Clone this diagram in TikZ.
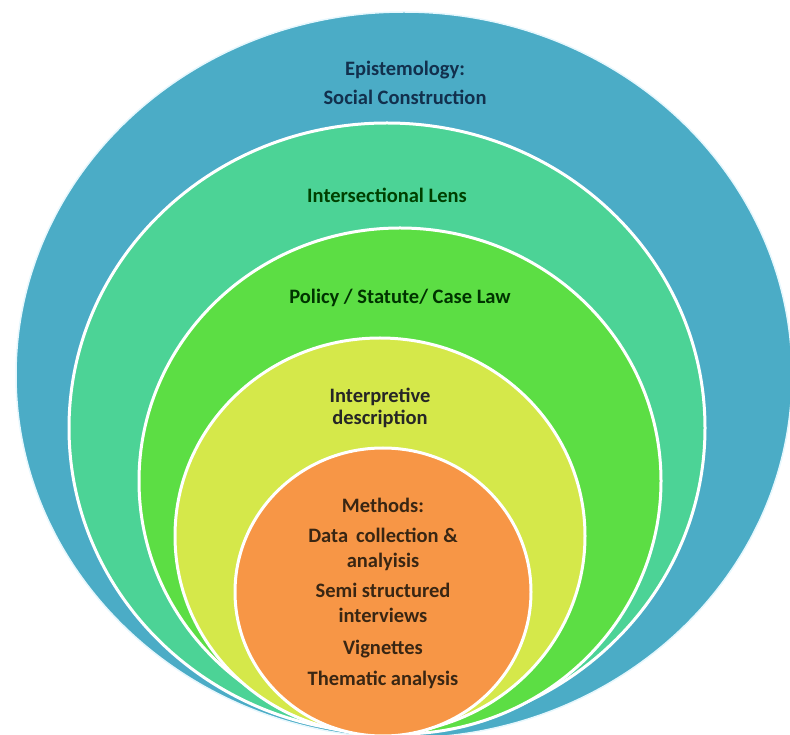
\documentclass[tikz,border=0pt]{standalone}
\usepackage{fontspec}
\setmainfont{Carlito}

\definecolor{epistblue}{HTML}{4BACC6}
\definecolor{lensteal}{HTML}{4CD396}
\definecolor{policygreen}{HTML}{5CDE44}
\definecolor{interpyellow}{HTML}{D5E84A}
\definecolor{methodsorange}{HTML}{F79646}
\definecolor{episttext}{HTML}{12304D}

\begin{document}
\begin{tikzpicture}[x=1pt, y=1pt,
    ring/.style={draw=white, line width=3pt},
    every node/.style={font=\bfseries\fontsize{20.5}{24.5}\selectfont, align=center, inner sep=0pt}]

    \useasboundingbox (0,0) rectangle (790,734);
    \clip (0,0) rectangle (790,734);

    % Define the nested rings, outer to inner
    \draw[ring, fill=epistblue, line width=1.5pt, draw=cyan!10] (404,359) ellipse (388 and 363);
    \draw[ring, fill=lensteal] (387,306) ellipse (318 and 305);
    \draw[ring, fill=policygreen] (400,253) ellipse (261 and 253);
    \draw[ring, fill=interpyellow] (380,198) ellipse (205 and 198);
    \draw[ring, fill=methodsorange] (383,142) ellipse (148 and 144);

    % Define the labels of each ring
    \node[text=episttext] (epist) at (405,651) {Epistemology:\\[4pt] Social Construction};
    \node[text=green!25!black] (lens) at (387,539) {Intersectional Lens};
    \node[text=green!20!black] (policy) at (400,436) {Policy / Statute/ Case Law};
    \node[text=black!85] (interp) at (380,326) {Interpretive\\[-3pt] description};
    \node[text=brown!30!black] (methods) at (383,141) {Methods:\\[6pt] Data\, collection \&\\ analyisis\\[6pt]
        Semi structured\\ interviews\\[8pt] Vignettes\\[6pt] Thematic analysis};

\end{tikzpicture}
\end{document}
